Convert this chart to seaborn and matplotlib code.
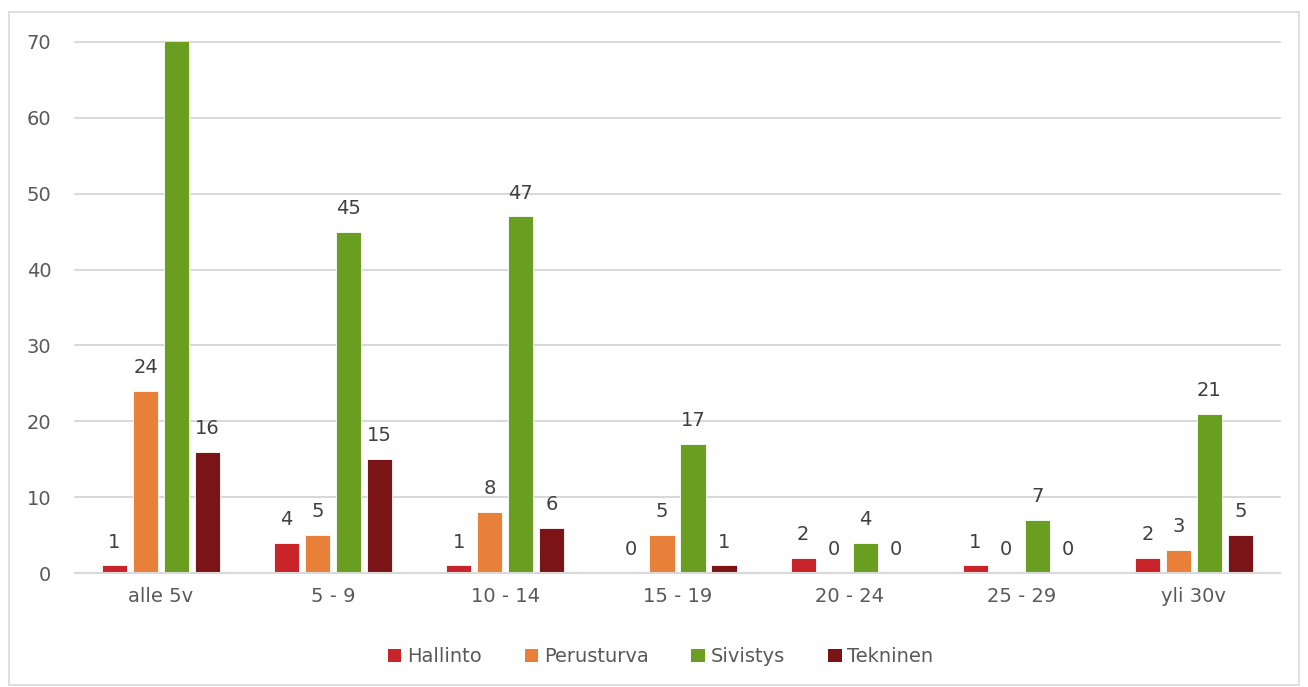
import numpy as np
import pandas as pd
import matplotlib.pyplot as plt
import seaborn as sns
from matplotlib.patches import Patch, Rectangle

# data
categories = ['alle 5v', '5 - 9', '10 - 14', '15 - 19', '20 - 24', '25 - 29', 'yli 30v']
hallinto = [1, 4, 1, 0, 2, 1, 2]
perusturva = [24, 5, 8, 5, 0, 0, 3]
sivistys = [72, 45, 47, 17, 4, 7, 21]   # first bar runs off the 70 axis limit
tekninen = [16, 15, 6, 1, 0, 0, 5]
series = ['Hallinto', 'Perusturva', 'Sivistys', 'Tekninen']
colors = ['#C8242A', '#E8803A', '#6A9E21', '#7A1416']
ymax = 70

rows = []
for name, vals in zip(series, [hallinto, perusturva, sivistys, tekninen]):
    for cat, v in zip(categories, vals):
        rows.append({'ryhma': cat, 'sarja': name, 'arvo': v})
df = pd.DataFrame(rows)

sns.set_style('white')
plt.rcParams['font.family'] = ['DejaVu Sans']
txt = '#595959'

fig = plt.figure(figsize=(13.08, 6.87), dpi=100)
ax = fig.add_axes([0.0573, 0.1659, 0.9213, 0.773])

sns.barplot(data=df, x='ryhma', y='arvo', hue='sarja', order=categories, hue_order=series,
            palette=colors, saturation=1, width=0.72, gap=0.19, edgecolor='white', linewidth=0.6,
            legend=False, ax=ax)

ax.set_ylim(0, ymax)
ax.set_xlim(-0.5, len(categories) - 0.5)
ax.set_yticks(range(0, ymax + 1, 10))
ax.yaxis.grid(True, color='#D9D9D9', linewidth=1.5)
for gl in ax.get_ygridlines():
    gl.set_clip_on(False)
ax.set_axisbelow(True)
for s in ['top', 'right', 'left']:
    ax.spines[s].set_visible(False)
ax.spines['bottom'].set_color('#D9D9D9')
ax.spines['bottom'].set_linewidth(1.5)
ax.tick_params(axis='both', length=0, labelsize=14, colors=txt)
ax.tick_params(axis='x', pad=10)
ax.tick_params(axis='y', pad=17)
ax.set_xlabel('')
ax.set_ylabel('')

for cont in ax.containers:
    labels = [f'{v:.0f}' if v <= ymax else '' for v in cont.datavalues]
    ax.bar_label(cont, labels=labels, padding=10, fontsize=14, color='#404040', clip_on=False)

handles = [Patch(facecolor=c, edgecolor='none') for c in colors]
fig.legend(handles, series, loc='center', bbox_to_anchor=(0.505, 0.044), ncol=4, frameon=False,
           fontsize=14, handlelength=0.7, handleheight=0.7, handletextpad=0.3, columnspacing=2.2,
           labelcolor=txt)

fig.patches.append(Rectangle((9 / 1308, 2 / 687), 1290 / 1308, 673 / 687, transform=fig.transFigure,
                             fill=False, edgecolor='#D9D9D9', linewidth=1.2))

fig.savefig('out.png', dpi=100)
